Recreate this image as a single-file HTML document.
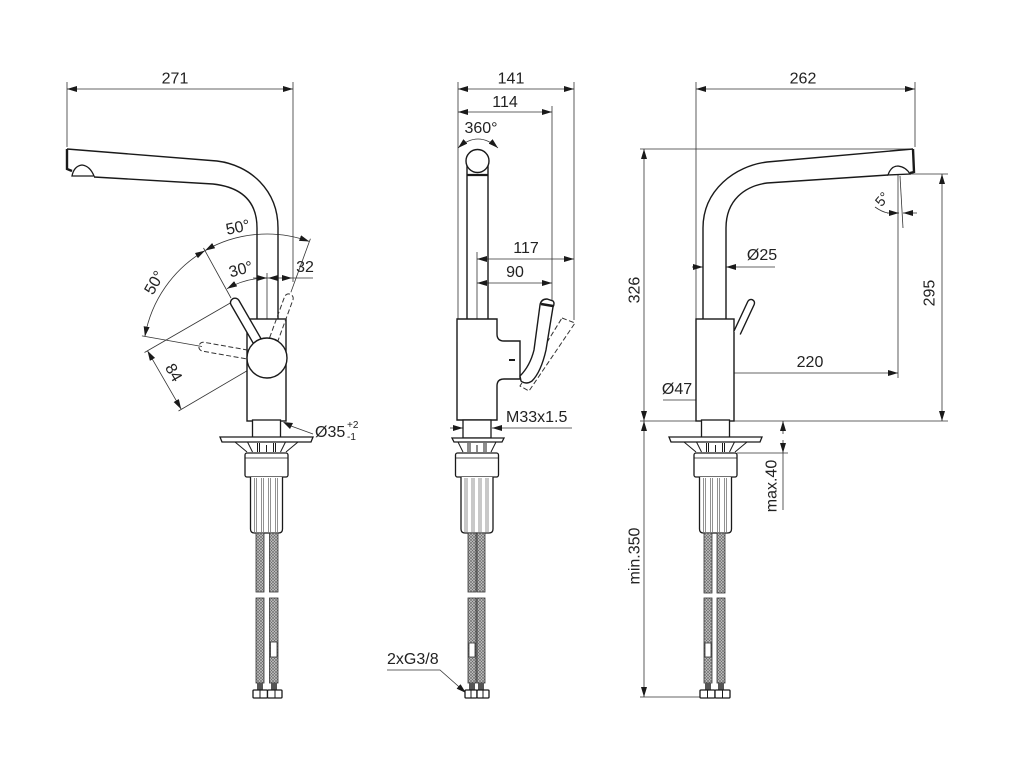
<!DOCTYPE html>
<html><head><meta charset="utf-8"><style>html,body{margin:0;padding:0;background:#fff;}svg{display:block}</style></head>
<body>
<svg width="1024" height="763" viewBox="0 0 1024 763" xmlns="http://www.w3.org/2000/svg" font-family="'Liberation Sans', Arial, sans-serif" font-size="16" fill="#222">
<defs>
<marker id="a" viewBox="0 0 10 6" refX="10" refY="3" markerWidth="10" markerHeight="6" markerUnits="userSpaceOnUse" orient="auto-start-reverse"><path d="M0,0 L10,3 L0,6 z" fill="#1a1a1a"/></marker>
<pattern id="h" width="3" height="3" patternUnits="userSpaceOnUse"><rect width="3" height="3" fill="#c4c4c4"/><path d="M0,0L3,3M3,0L0,3" stroke="#666" stroke-width="0.6"/></pattern>
<g id="core" stroke="#1a1a1a" fill="#fff">
 <rect x="-14" y="420" width="28" height="18" stroke-width="1.3"/>
 <path d="M-19,442 L-14,452 M19,442 L14,452 M-9,443 V452 M9,443 V452 M-7,443 V452 M7,443 V452 M0,445 V452" stroke-width="1" fill="none"/>
 <rect x="-21.5" y="453" width="43" height="24" rx="2" stroke-width="1.3"/>
 <line x1="-21.5" y1="458" x2="21.5" y2="458" stroke-width="0.8"/>
 <path d="M-16,477 V529 Q-16,533 -12,533 H12 Q16,533 16,529 V477" stroke-width="1.3"/>
 <path d="M-12,478V532M-10,478V532M-5,478V532M-3,478V532M2,478V532M4,478V532M9,478V532M11,478V532" stroke="#777" stroke-width="0.8" fill="none"/>
</g>
</defs>

<g fill="none" stroke="#1a1a1a">

<!-- ============ LEFT VIEW ============ -->
<!-- dims -->
<g stroke="#333" stroke-width="0.8">
 <line x1="67" y1="82" x2="67" y2="147"/>
 <line x1="293" y1="82" x2="293" y2="282"/>
 <line x1="67" y1="89" x2="293" y2="89" marker-start="url(#a)" marker-end="url(#a)"/>
 <path d="M205,250.6 A124,124 0 0 0 144.9,336.5" marker-start="url(#a)" marker-end="url(#a)"/>
 <path d="M205,250.6 A124,124 0 0 1 309.4,241.5" marker-start="url(#a)" marker-end="url(#a)"/>
 <path d="M267,278 A80,80 0 0 0 227,288.7" marker-end="url(#a)"/>
 <line x1="203.5" y1="248" x2="231" y2="298"/>
 <line x1="141.9" y1="335.9" x2="202" y2="346.5"/>
 <line x1="310.4" y1="238.7" x2="290.9" y2="292.2"/>
 <line x1="253" y1="278" x2="313" y2="278"/>
 <line x1="267" y1="273" x2="267" y2="319"/>
 <line x1="144.5" y1="352.5" x2="232" y2="302"/>
 <line x1="178.5" y1="411" x2="262" y2="362"/>
 <line x1="147.5" y1="350.8" x2="181.2" y2="409.2" marker-start="url(#a)" marker-end="url(#a)"/>
 <line x1="313" y1="434" x2="291" y2="426"/>
</g>
<g fill="#1a1a1a" stroke="none">
 <polygon points="267,278 257,275 257,281"/>
 <polygon points="268,278 278,275 278,281"/>
 <polygon points="292,278 282,275 282,281"/>
 <polygon points="283,422 293,423 290,429"/>
</g>
<!-- spout -->
<path d="M67,149 L217,161 C250,165 278,190 278,228 V319" stroke-width="1.4"/>
<path d="M94,177 L213,184 C240,187 257,200 257,228 V319" stroke-width="1.4"/>
<path d="M67,149 V169 L72,171" stroke-width="2.4"/>
<path d="M72,176 Q74,166 82,165 Q90,166 94,176 Z" fill="#fff" stroke-width="1.3"/>
<!-- body -->
<rect x="247" y="319" width="39" height="102" fill="#fff" stroke-width="1.4"/>
<!-- dashed levers -->
<g stroke="#333" stroke-width="1" stroke-dasharray="5,2.5">
 <path d="M248,350.1 L204,342.3 A4.5,4.5 0 0 0 202.2,351.1 L246.5,358.9"/>
 <path d="M269.6,337.7 L284.7,296.4 A4.5,4.5 0 0 1 293.1,299.4 L278,340.7"/>
</g>
<!-- solid lever -->
<path d="M255.6,347.3 L231.1,304.9 A4.5,4.5 0 0 1 238.9,300.4 L263.4,342.8" fill="#fff" stroke-width="1.4"/>
<circle cx="267" cy="358" r="20" fill="#fff" stroke-width="1.4"/>
<!-- lower -->
<use href="#core" x="266.5"/>
<polygon points="220,437 313,437 311,442 222,442" fill="#fff" stroke-width="1.3"/>
<path d="M235,442 L247,452 M298,442 L286,452" stroke-width="1"/>
<g fill="url(#h)" stroke="#333" stroke-width="0.8">
 <rect x="256" y="533" width="8" height="59"/><rect x="269.5" y="533" width="8.5" height="59"/>
 <rect x="256" y="598" width="8" height="85"/><rect x="269.5" y="598" width="8.5" height="85"/>
</g>
<rect x="270.5" y="642" width="6.5" height="15" fill="#fff" stroke="#333" stroke-width="0.8"/>
<rect x="257" y="683" width="6" height="7" fill="#555" stroke="none"/><rect x="271" y="683" width="6" height="7" fill="#555" stroke="none"/>
<rect x="253" y="690" width="14.5" height="8" fill="#fff" stroke-width="1.3" rx="1"/><rect x="267.5" y="690" width="14.5" height="8" fill="#fff" stroke-width="1.3" rx="1"/>
<path d="M260,690V698M275,690V698" stroke-width="1"/>

<!-- ============ MIDDLE VIEW ============ -->
<g stroke="#333" stroke-width="0.8">
 <line x1="458" y1="82" x2="458" y2="319"/>
 <line x1="574" y1="82" x2="574" y2="320"/>
 <line x1="552" y1="106" x2="552" y2="300"/>
 <line x1="477" y1="252" x2="477" y2="319"/>
 <line x1="458" y1="89" x2="574" y2="89" marker-start="url(#a)" marker-end="url(#a)"/>
 <line x1="458" y1="112" x2="552" y2="112" marker-start="url(#a)" marker-end="url(#a)"/>
 <line x1="477" y1="259" x2="574" y2="259" marker-start="url(#a)" marker-end="url(#a)"/>
 <line x1="477" y1="283" x2="552" y2="283" marker-start="url(#a)" marker-end="url(#a)"/>
 <path d="M458,148 Q478,130 498,148" marker-start="url(#a)" marker-end="url(#a)"/>
 <line x1="450" y1="428" x2="463" y2="428" marker-end="url(#a)"/>
 <line x1="572" y1="428" x2="492" y2="428" marker-end="url(#a)"/>
 <polyline points="387,670 440,670 466,693" marker-end="url(#a)"/>
</g>
<path d="M467,161 V319 M488,161 V319" stroke-width="1.4"/>
<circle cx="477.5" cy="161" r="11.5" fill="#fff" stroke-width="1.4"/>
<line x1="467" y1="175" x2="488" y2="175" stroke-width="2.2"/>
<path d="M457,319 H497 V334 Q497,341 504,341 H520 V379 H504 Q497,379 497,386 V420 H457 Z" fill="#fff" stroke-width="1.4"/>
<polygon points="562,318 575,323 529,391 520,386" stroke="#333" stroke-width="1" stroke-dasharray="5,2.5"/>
<path d="M540,305 Q541,299 547,299 L553,301 Q555,303 553,307 L546,350 Q541,372 532,381 Q526,385 521,381 L520,376 Q530,366 534,350 Z" fill="#fff" stroke-width="1.4"/>
<line x1="541" y1="304" x2="553" y2="306" stroke-width="2.5"/>
<line x1="509" y1="360" x2="515" y2="360" stroke-width="2"/>
<use href="#core" x="477"/>
<polygon points="452,438 504,438 502,442 454,442" fill="#fff" stroke-width="1.3"/>
<g fill="url(#h)" stroke="#333" stroke-width="0.8">
 <rect x="468" y="533" width="8" height="59"/><rect x="477" y="533" width="8" height="59"/>
 <rect x="468" y="598" width="8" height="85"/><rect x="477" y="598" width="8" height="85"/>
</g>
<rect x="469" y="643" width="6" height="14" fill="#fff" stroke="#333" stroke-width="0.8"/>
<rect x="469" y="683" width="6" height="7" fill="#555" stroke="none"/><rect x="478" y="683" width="6" height="7" fill="#555" stroke="none"/>
<rect x="465" y="690" width="12" height="8" fill="#fff" stroke-width="1.3" rx="1"/><rect x="477" y="690" width="12" height="8" fill="#fff" stroke-width="1.3" rx="1"/>
<path d="M471,690V698M483,690V698" stroke-width="1"/>

<!-- ============ RIGHT VIEW ============ -->
<g stroke="#333" stroke-width="0.8">
 <line x1="696" y1="82" x2="696" y2="319"/>
 <line x1="915" y1="82" x2="915" y2="147"/>
 <line x1="696" y1="89" x2="915" y2="89" marker-start="url(#a)" marker-end="url(#a)"/>
 <line x1="640" y1="149" x2="912" y2="149"/>
 <line x1="888" y1="174" x2="948" y2="174"/>
 <line x1="640" y1="421" x2="948" y2="421"/>
 <line x1="640" y1="697" x2="702" y2="697"/>
 <line x1="644" y1="149" x2="644" y2="421" marker-start="url(#a)" marker-end="url(#a)"/>
 <line x1="644" y1="421" x2="644" y2="697" marker-start="url(#a)" marker-end="url(#a)"/>
 <line x1="942" y1="174" x2="942" y2="421" marker-start="url(#a)" marker-end="url(#a)"/>
 <line x1="898" y1="175" x2="898" y2="378"/>
 <line x1="900" y1="176" x2="903" y2="228"/>
 <line x1="887" y1="213" x2="899" y2="213" marker-end="url(#a)"/>
 <line x1="917" y1="213" x2="903" y2="213" marker-end="url(#a)"/>
 <path d="M875,207 Q882,212 888,213"/>
 <line x1="692" y1="267" x2="703" y2="267" marker-end="url(#a)"/>
 <line x1="775" y1="267" x2="726" y2="267" marker-end="url(#a)"/>
 <line x1="715" y1="373" x2="898" y2="373" marker-start="url(#a)" marker-end="url(#a)"/>
 <line x1="715" y1="368" x2="715" y2="421"/>
 <line x1="663" y1="400" x2="734" y2="400"/>
 <line x1="737" y1="453" x2="788" y2="453"/>
 <line x1="783" y1="434" x2="783" y2="421" marker-end="url(#a)"/>
 <line x1="783" y1="440" x2="783" y2="453" marker-end="url(#a)"/>
 <line x1="783" y1="453" x2="783" y2="510"/>
</g>
<g fill="#1a1a1a" stroke="none">
 <polygon points="696,400 706,397 706,403"/>
 <polygon points="734,400 724,397 724,403"/>
</g>
<path d="M913,149 L767,162 C735,166 703,190 703,228 V319" stroke-width="1.4"/>
<path d="M888,175 L767,183 C745,186 726,200 726,228 V319" stroke-width="1.4"/>
<path d="M913,149 L914,172 L910,173" stroke-width="2.4"/>
<path d="M888,175 Q891,166 898,166 Q906,167 910,174 Z" fill="#fff" stroke-width="1.3"/>
<rect x="696" y="319" width="38" height="102" fill="#fff" stroke-width="1.4"/>
<path d="M733.8,331.5 L747.8,301.5 A3.5,3.5 0 0 1 754.2,304.5 L740.2,334.5" fill="#fff" stroke-width="1.4"/>
<use href="#core" x="715.5"/>
<polygon points="669,437 762,437 760,442 671,442" fill="#fff" stroke-width="1.3"/>
<path d="M684,442 L696,452 M747,442 L735,452" stroke-width="1"/>
<g fill="url(#h)" stroke="#333" stroke-width="0.8">
 <rect x="704" y="533" width="8" height="60"/><rect x="717" y="533" width="8" height="60"/>
 <rect x="704" y="598" width="8" height="85"/><rect x="717" y="598" width="8" height="85"/>
</g>
<rect x="705" y="643" width="6" height="14" fill="#fff" stroke="#333" stroke-width="0.8"/>
<rect x="705" y="683" width="6" height="7" fill="#555" stroke="none"/><rect x="718" y="683" width="6" height="7" fill="#555" stroke="none"/>
<rect x="700" y="690" width="15" height="8" fill="#fff" stroke-width="1.3" rx="1"/><rect x="715" y="690" width="15" height="8" fill="#fff" stroke-width="1.3" rx="1"/>
<path d="M707.5,690V698M722.5,690V698" stroke-width="1"/>
</g>

<!-- ============ TEXT ============ -->
<g stroke="none" fill="#222">
 <text x="175" y="83.5" text-anchor="middle">271</text>
 <text x="238" y="228" text-anchor="middle" dominant-baseline="central" transform="rotate(-12 238 228)">50°</text>
 <text x="155" y="283" text-anchor="middle" dominant-baseline="central" transform="rotate(-60 155 283)">50°</text>
 <text x="241" y="270" text-anchor="middle" dominant-baseline="central" transform="rotate(-15 241 270)">30°</text>
 <text x="305" y="272" text-anchor="middle">32</text>
 <text x="173" y="373" text-anchor="middle" dominant-baseline="central" transform="rotate(60 173 373)">84</text>
 <text x="315" y="437">Ø35</text>
 <text x="347" y="428" font-size="10">+2</text>
 <text x="347" y="440" font-size="10">-1</text>

 <text x="511" y="83.5" text-anchor="middle">141</text>
 <text x="505" y="107" text-anchor="middle">114</text>
 <text x="481" y="133" text-anchor="middle">360°</text>
 <text x="526" y="253" text-anchor="middle">117</text>
 <text x="515" y="277" text-anchor="middle">90</text>
 <text x="506" y="422">M33x1.5</text>
 <text x="387" y="664">2xG3/8</text>

 <text x="803" y="83.5" text-anchor="middle">262</text>
 <text x="762" y="260" text-anchor="middle">Ø25</text>
 <text x="810" y="367" text-anchor="middle">220</text>
 <text x="677" y="394" text-anchor="middle">Ø47</text>
 <text x="635" y="290" text-anchor="middle" dominant-baseline="central" transform="rotate(-90 635 290)">326</text>
 <text x="930" y="293" text-anchor="middle" dominant-baseline="central" transform="rotate(-90 930 293)">295</text>
 <text x="882" y="199" font-size="14" text-anchor="middle" dominant-baseline="central" transform="rotate(-50 882 199)">5°</text>
 <text x="635" y="556" text-anchor="middle" dominant-baseline="central" transform="rotate(-90 635 556)">min.350</text>
 <text x="772" y="486" text-anchor="middle" dominant-baseline="central" transform="rotate(-90 772 486)">max.40</text>
</g>
</svg>
</body></html>
